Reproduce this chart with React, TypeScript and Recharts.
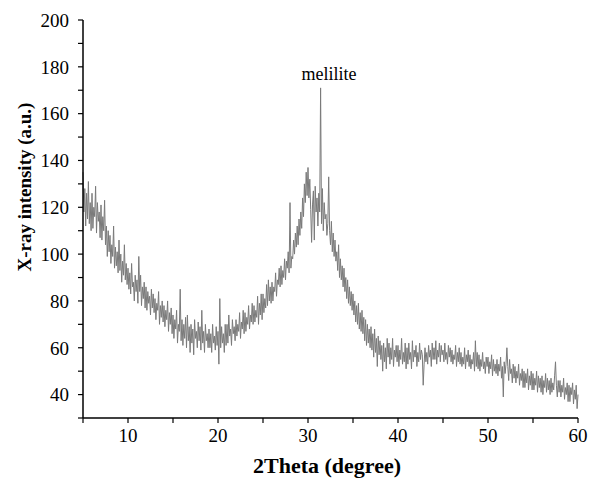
import React from 'react';
import { LineChart, Line, XAxis, YAxis } from 'recharts';

// 2-theta scan: start angle and step (degrees)
const THETA_START = 5;
const THETA_STEP = 0.1;

// intensity readings, one row per degree (5.0 .. 59.9), then the last point at 60
const intensity = [
  135, 118, 128, 112, 126, 115, 131, 113, 122, 110,
  126, 111, 120, 116, 129, 109, 122, 114, 118, 107,
  121, 106, 116, 110, 123, 104, 112, 99, 110, 101,
  108, 96, 104, 99, 112, 94, 103, 95, 101, 92,
  106, 93, 100, 88, 97, 91, 104, 89, 96, 87,
  94, 85, 92, 83, 96, 86, 88, 80, 91, 84,
  89, 79, 99, 84, 91, 78, 86, 81, 88, 77,
  86, 76, 84, 79, 82, 74, 85, 77, 83, 75,
  81, 72, 79, 76, 84, 70, 78, 73, 80, 71,
  78, 69, 76, 72, 80, 67, 75, 70, 77, 66,
  74, 64, 72, 68, 76, 62, 70, 67, 85, 63,
  72, 61, 70, 64, 73, 60, 74, 63, 69, 58,
  70, 62, 68, 57, 72, 64, 67, 60, 71, 63,
  69, 59, 76, 62, 67, 58, 70, 63, 66, 60,
  68, 60, 66, 58, 70, 62, 65, 59, 69, 61,
  67, 53, 81, 60, 69, 62, 66, 58, 70, 61,
  70, 62, 74, 65, 68, 61, 72, 66, 69, 63,
  72, 65, 70, 67, 75, 64, 71, 68, 76, 66,
  75, 67, 73, 70, 78, 68, 74, 71, 79, 70,
  78, 71, 76, 73, 82, 70, 79, 74, 83, 72,
  83, 75, 81, 77, 87, 78, 89, 80, 86, 79,
  88, 80, 86, 84, 92, 82, 89, 87, 94, 86,
  95, 87, 93, 90, 98, 89, 97, 94, 101, 92,
  122, 94, 99, 98, 106, 100, 109, 103, 112, 104,
  115, 108, 118, 111, 124, 116, 130, 122, 135, 125,
  137, 124, 132, 119, 105, 121, 127, 106, 129, 118,
  124, 112, 126, 118, 171, 113, 128, 110, 122, 115,
  117, 108, 113, 133, 110, 104, 114, 101, 109, 99,
  106, 97, 101, 93, 104, 90, 98, 89, 95, 86,
  94, 84, 90, 81, 89, 79, 86, 78, 84, 76,
  83, 74, 80, 71, 78, 70, 79, 68, 75, 67,
  76, 66, 73, 63, 72, 61, 70, 62, 68, 60,
  69, 59, 66, 56, 68, 58, 64, 52, 65, 57,
  63, 55, 61, 50, 62, 54, 60, 51, 64, 56,
  62, 53, 60, 55, 64, 52, 59, 56, 61, 54,
  61, 52, 59, 55, 64, 53, 58, 54, 62, 51,
  60, 53, 62, 55, 58, 51, 63, 54, 59, 56,
  61, 52, 58, 54, 62, 55, 59, 57, 44, 53,
  60, 54, 58, 53, 61, 56, 59, 52, 62, 55,
  60, 55, 63, 53, 59, 56, 62, 54, 61, 57,
  59, 54, 62, 55, 58, 53, 61, 56, 60, 54,
  59, 53, 57, 55, 61, 52, 58, 54, 60, 53,
  58, 52, 56, 53, 60, 51, 57, 54, 59, 52,
  57, 51, 55, 53, 58, 50, 63, 52, 58, 51,
  57, 50, 55, 52, 58, 51, 54, 49, 56, 52,
  56, 49, 54, 51, 57, 48, 55, 50, 53, 49,
  55, 48, 53, 50, 56, 47, 52, 39, 54, 49,
  53, 60, 52, 46, 55, 49, 51, 45, 53, 47,
  52, 45, 50, 47, 53, 44, 49, 46, 51, 43,
  50, 43, 49, 45, 51, 42, 48, 44, 50, 42,
  49, 42, 47, 44, 50, 41, 48, 43, 47, 41,
  48, 40, 46, 43, 49, 41, 47, 42, 46, 40,
  47, 41, 45, 42, 48, 54, 44, 39, 46, 41,
  46, 39, 44, 41, 47, 38, 43, 40, 45, 37,
  44, 37, 43, 40, 45, 36, 42, 38, 44, 34,
  40,
];

const xTicks = [5, 10, 15, 20, 25, 30, 35, 40, 45, 50, 55, 60];
const yTicks = [30, 40, 50, 60, 70, 80, 90, 100, 110, 120, 130, 140, 150, 160, 170, 180, 190, 200];

const FONT = 'Liberation Serif, Times New Roman, Times, serif';

const data = intensity.map((v, i) => ({
  theta: +(THETA_START + i * THETA_STEP).toFixed(1),
  intensity: v,
}));

export default function App() {
  const tickStyle = { fill: '#000', fontSize: 19, fontFamily: FONT };

  return (
    <div style={{ position: 'fixed', left: 0, top: 0, width: 590, height: 479, background: '#fff', overflow: 'hidden' }}>
      <LineChart
        width={590}
        height={479}
        data={data}
        margin={{ top: 20, right: 12, bottom: 21, left: 23 }}
      >
        <XAxis
          dataKey="theta"
          type="number"
          domain={[5, 60]}
          ticks={xTicks}
          interval={0}
          height={40}
          tick={tickStyle}
          tickSize={5}
          tickMargin={6}
          tickFormatter={(v: number) => (v % 10 === 0 ? String(v) : '')}
          axisLine={{ stroke: '#000', strokeWidth: 1.5 }}
          tickLine={{ stroke: '#000', strokeWidth: 1.2 }}
        />
        <XAxis xAxisId="top" orientation="top" dataKey="theta" type="number" domain={[5, 60]}
          height={0} tick={false} tickLine={false} axisLine={{ stroke: '#000', strokeWidth: 1.5 }} />
        <YAxis
          type="number"
          domain={[30, 200]}
          ticks={yTicks}
          interval={0}
          width={60}
          tick={tickStyle}
          tickSize={5}
          tickMargin={9}
          tickFormatter={(v: number) => (v % 20 === 0 ? String(v) : '')}
          axisLine={{ stroke: '#000', strokeWidth: 1.5 }}
          tickLine={{ stroke: '#000', strokeWidth: 1.2 }}
        />
        <YAxis yAxisId="right" orientation="right" type="number" domain={[30, 200]}
          width={0} tick={false} tickLine={false} axisLine={{ stroke: '#000', strokeWidth: 1.5 }} />
        <Line
          type="linear"
          dataKey="intensity"
          stroke="#7a7a7a"
          strokeWidth={1}
          dot={false}
          isAnimationActive={false}
        />
      </LineChart>

      <div style={{
        position: 'absolute', left: 24, top: 187, transform: 'translate(-50%, -50%) rotate(-90deg)',
        whiteSpace: 'nowrap', fontFamily: FONT, fontWeight: 'bold', fontSize: 19, lineHeight: 1, color: '#000',
      }}>
        X-ray intensity (a.u.)
      </div>
      <div style={{
        position: 'absolute', left: 327, top: 455, transform: 'translateX(-50%)',
        whiteSpace: 'nowrap', fontFamily: FONT, fontWeight: 'bold', fontSize: 22, lineHeight: 1, color: '#000',
      }}>
        2Theta (degree)
      </div>
      <div style={{
        position: 'absolute', left: 329, top: 74, transform: 'translate(-50%, -50%)',
        whiteSpace: 'nowrap', fontFamily: FONT, fontSize: 18, lineHeight: 1, color: '#000',
      }}>
        melilite
      </div>
    </div>
  );
}
